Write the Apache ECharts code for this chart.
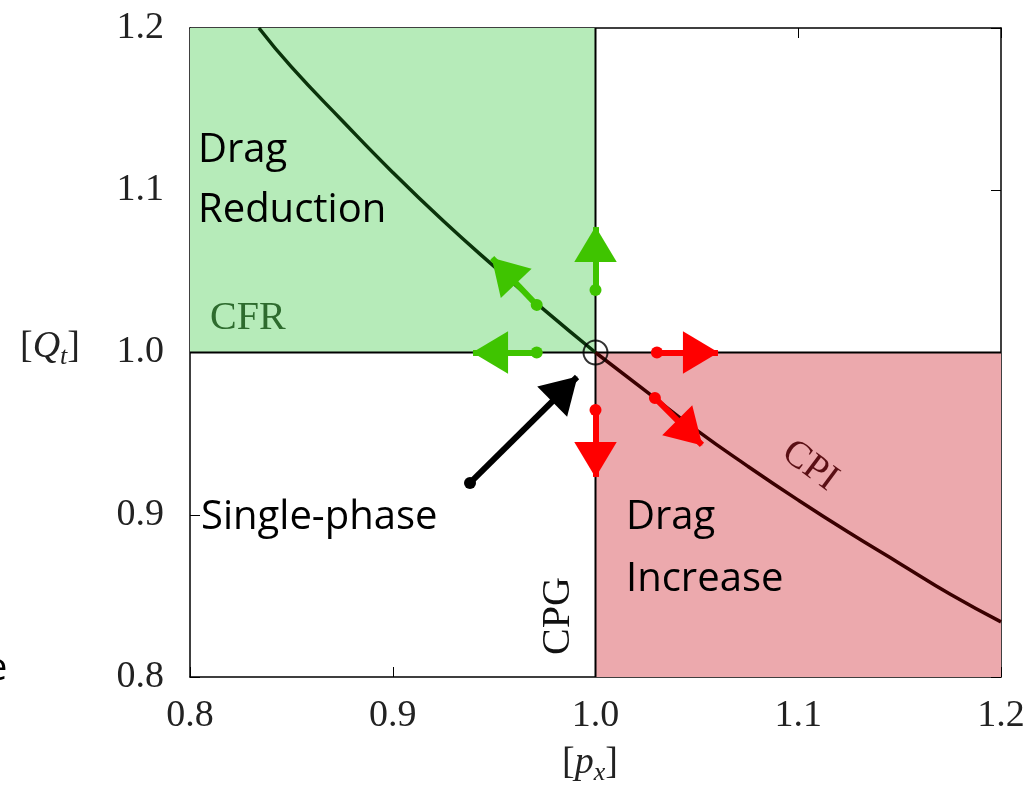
<!DOCTYPE html>
<html><head><meta charset="utf-8">
<script src="https://cdn.jsdelivr.net/npm/echarts@6/dist/echarts.min.js"></script>
<style>html,body{margin:0;padding:0;background:#fff}#c{width:1029px;height:800px}</style>
</head><body><div id="c"></div>
<script>
// ---- data ----
const xTicks = [0.8, 0.9, 1.0, 1.1, 1.2];
const yTicks = [0.8, 0.9, 1.0, 1.1, 1.2];
const curveUpper = [[0.834,1.2],[0.85,1.176],[0.875,1.143],[0.9,1.111],[0.925,1.081],[0.95,1.053],[0.975,1.026],[1.0,1.0]];
const curveLower = [[1.0,1.0],[1.025,0.976],[1.05,0.952],[1.075,0.930],[1.1,0.909],[1.125,0.889],[1.15,0.870],[1.175,0.851],[1.2,0.834]];
const cpgLine = [[1.0,0.8],[1.0,1.2]];
const cfrLine = [[0.8,1.0],[1.2,1.0]];
const dragReductionBox = [[0.8,1.0],[1.0,1.2]];
const dragIncreaseBox = [[1.0,0.8],[1.2,1.0]];
const greenArrows = [
  [[1.0,1.0385],[1.0,1.0773]],
  [[0.971,1.0293],[0.949,1.0582]],
  [[0.971,1.0],[0.9396,1.0]]
];
const redArrows = [
  [[1.0303,1.0],[1.0604,1.0]],
  [[1.0293,0.972],[1.0525,0.943]],
  [[1.0,0.9646],[1.0,0.9233]]
];
const blackArrow = [[[0.9381,0.9196],[0.9909,0.9849]]];
const criticalPoint = [[1.0,1.0]];

const serif = '"Liberation Serif", "DejaVu Serif", serif';
const sans = '"Open Sans", Lato, sans-serif';

// triangle head whose tip sits at the centre of a square bounding box
const headPath = 'path://M-12,0 M44,0 M16,-28 M16,0 L33,29 L-1,29 Z';

const chart = echarts.init(document.getElementById('c'));
const axisCommon = {
  type:'value', min:0.8, max:1.2, interval:0.1,
  axisLine:{show:true, onZero:false, lineStyle:{color:'#000', width:1.5}},
  axisTick:{show:true, inside:true, length:10, lineStyle:{color:'#000', width:1}},
  splitLine:{show:false}
};
const arrowStyle = {symbol:['circle', headPath], symbolSize:[12,70], z:6};
chart.setOption({
  animation:false,
  grid:{left:190, top:28, width:811, height:649, containLabel:false},
  xAxis:[
    Object.assign({}, axisCommon, {position:'bottom',
      axisLabel:{fontFamily:serif, fontSize:38, color:'#222', margin:20, formatter:v=>v.toFixed(1)}}),
    Object.assign({}, axisCommon, {position:'top', axisLabel:{show:false}})
  ],
  yAxis:[
    Object.assign({}, axisCommon, {position:'left',
      axisLabel:{fontFamily:serif, fontSize:38, color:'#222', margin:26, formatter:v=>v.toFixed(1)}}),
    Object.assign({}, axisCommon, {position:'right', axisLabel:{show:false}})
  ],
  series:[
    {type:'line', data:[], silent:true,
      markArea:{silent:true, data:[
        [{coord:dragReductionBox[0], itemStyle:{color:'#b6ebb9'}},{coord:dragReductionBox[1]}],
        [{coord:dragIncreaseBox[0], itemStyle:{color:'#eca9ad'}},{coord:dragIncreaseBox[1]}]
      ]}},
    {type:'line', data:cpgLine, symbol:'none', lineStyle:{color:'#000', width:2}, z:3},
    {type:'line', data:cfrLine, symbol:'none', lineStyle:{color:'#000', width:2}, z:3},
    {type:'line', data:curveUpper, smooth:true, symbol:'none', lineStyle:{color:'#0a330a', width:3.5}, z:4},
    {type:'line', data:curveLower, smooth:true, symbol:'none', lineStyle:{color:'#3a0000', width:3.5}, z:4},
    Object.assign({type:'lines', coordinateSystem:'cartesian2d',
      lineStyle:{color:'#3fc400', width:6, opacity:1}, itemStyle:{color:'#3fc400'},
      data:greenArrows.map(c=>({coords:c}))}, arrowStyle),
    Object.assign({type:'lines', coordinateSystem:'cartesian2d',
      lineStyle:{color:'#ff0000', width:6, opacity:1}, itemStyle:{color:'#ff0000'},
      data:redArrows.map(c=>({coords:c}))}, arrowStyle),
    Object.assign({type:'lines', coordinateSystem:'cartesian2d',
      lineStyle:{color:'#000', width:6, opacity:1}, itemStyle:{color:'#000'},
      data:blackArrow.map(c=>({coords:c}))}, arrowStyle),
    {type:'scatter', data:criticalPoint, symbol:'circle', symbolSize:24, z:7,
      itemStyle:{color:'rgba(0,0,0,0)', borderColor:'#000', borderWidth:2}}
  ],
  graphic:[
    {type:'text', left:198, top:121, z:10, style:{text:'Drag\nReduction', font:'40px '+sans, fill:'#000', lineHeight:60}},
    {type:'text', left:626, top:487, z:10, style:{text:'Drag\nIncrease', font:'40px '+sans, fill:'#000', lineHeight:62}},
    {type:'text', left:201, top:498, z:10, style:{text:'Single-phase', font:'40px '+sans, fill:'#000'}},
    {type:'text', left:210, top:298, z:10, style:{text:'CFR', font:'40px '+serif, fill:'#2e6b2e'}},
    {type:'text', x:810, y:466, rotation:-0.64, z:10, style:{text:'CPI', font:'38px '+serif, fill:'#5a0f14', align:'center', verticalAlign:'middle'}},
    {type:'text', x:558, y:616, rotation:Math.PI/2, z:10, style:{text:'CPG', font:'40px '+serif, fill:'#111', align:'center', verticalAlign:'middle'}},
    {type:'text', left:20, top:328, z:10, style:{rich:{
      a:{font:'38px '+serif, fill:'#222'}, i:{font:'italic 38px '+serif, fill:'#222'}, s:{font:'italic 26px '+serif, fill:'#222', padding:[20,0,0,0]}
    }, text:'{a|[}{i|Q}{s|t}{a|]}'}},
    {type:'text', left:562, top:744, z:10, style:{rich:{
      a:{font:'38px '+serif, fill:'#222'}, i:{font:'italic 38px '+serif, fill:'#222'}, s:{font:'italic 26px '+serif, fill:'#222', padding:[20,0,0,0]}
    }, text:'{a|[}{i|p}{s|x}{a|]}'}},
    {type:'text', left:-14, top:650, z:10, style:{text:'e', font:'38px '+sans, fill:'#000'}}
  ]
});
</script></body></html>
